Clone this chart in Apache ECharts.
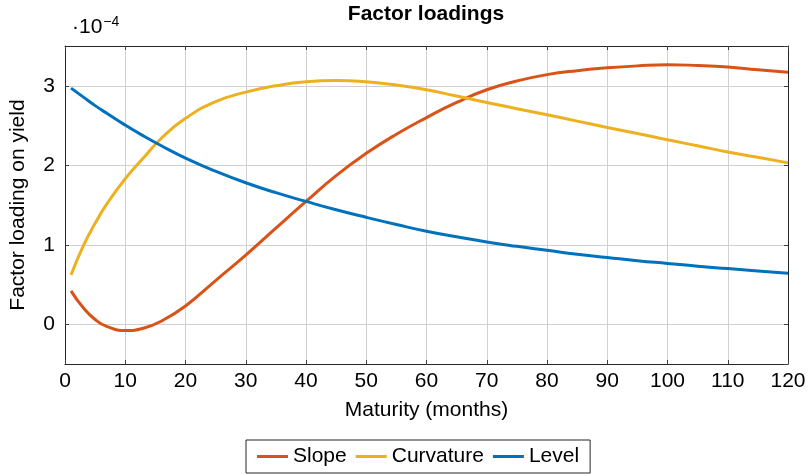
<!DOCTYPE html>
<html>
<head>
<meta charset="utf-8">
<script src="https://cdn.jsdelivr.net/npm/echarts@6/dist/echarts.min.js"></script>
<style>
  html, body { margin: 0; padding: 0; background: #fff; }
  #chart { width: 812px; height: 474px; }
</style>
</head>
<body>
<div id="chart"></div>
<script>
// maturities in months
var months = [1, 3, 5, 7, 10, 13, 16, 20, 25, 30, 35, 40, 45, 50,
  55, 60, 65, 70, 75, 80, 85, 90, 95, 100, 105, 110, 115, 120];

// loadings, in units of 1e-4
var slope = [0.42, 0.21, 0.06, -0.03, -0.08, -0.05, 0.04, 0.23, 0.55, 0.87, 1.21, 1.545, 1.87, 2.15,
  2.39, 2.60, 2.79, 2.95, 3.06, 3.14, 3.19, 3.225, 3.25, 3.265, 3.255, 3.235, 3.20, 3.17];
var curvature = [0.62, 0.98, 1.27, 1.52, 1.83, 2.09, 2.34, 2.59, 2.80, 2.92, 3.00, 3.05, 3.065, 3.05,
  3.01, 2.95, 2.87, 2.79, 2.71, 2.635, 2.555, 2.476, 2.40, 2.32, 2.245, 2.166, 2.10, 2.03];
var level = [2.97, 2.86, 2.75, 2.65, 2.505, 2.37, 2.245, 2.09, 1.925, 1.78, 1.655, 1.545, 1.44, 1.345,
  1.255, 1.17, 1.10, 1.035, 0.98, 0.93, 0.88, 0.84, 0.80, 0.765, 0.73, 0.70, 0.67, 0.64];

var seriesNames = ['Slope', 'Curvature', 'Level'];
var seriesColors = ['#D95319', '#EDB120', '#0072BD'];

var FONT = 'Liberation Sans';

function pairs(vals) {
  return months.map(function (m, i) { return [m, vals[i]]; });
}

var chart = echarts.init(document.getElementById('chart'));

var axisLine = { show: true, onZero: false, lineStyle: { color: '#262626', width: 1 } };
var tick = { show: true, inside: true, length: 4, lineStyle: { color: '#404040', width: 1 } };

chart.setOption({
  animation: false,
  textStyle: { fontFamily: FONT },
  title: [{
    text: 'Factor loadings',
    left: 426,
    textAlign: 'center',
    top: 4,
    padding: 0,
    textStyle: { fontFamily: FONT, fontSize: 21, fontWeight: 'bold', color: '#000' }
  }, {
    text: '{a|·10}{b|−4}',
    left: 72,
    top: 14,
    padding: 0,
    textStyle: {
      fontWeight: 'normal',
      rich: {
        a: { fontFamily: FONT, fontSize: 21, fontWeight: 'normal', color: '#000', verticalAlign: 'bottom', lineHeight: 24 },
        b: { fontFamily: FONT, fontSize: 14, fontWeight: 'normal', color: '#000', verticalAlign: 'bottom', lineHeight: 24, padding: [0, 0, 9, 1] }
      }
    }
  }],
  legend: {
    data: seriesNames,
    top: 440,
    left: 246,
    orient: 'horizontal',
    icon: 'rect',
    itemWidth: 31,
    itemHeight: 3,
    itemGap: 9,
    padding: [6, 11],
    borderColor: '#262626',
    borderWidth: 1,
    borderRadius: 0,
    textStyle: { fontFamily: FONT, fontSize: 21, color: '#000' }
  },
  grid: { left: 65, right: 24, top: 46, bottom: 110, containLabel: false },
  xAxis: [{
    type: 'value',
    min: 0,
    max: 120,
    interval: 10,
    name: 'Maturity (months)',
    nameLocation: 'middle',
    nameGap: 36,
    nameTextStyle: { fontFamily: FONT, fontSize: 21, color: '#000' },
    axisLine: axisLine,
    axisTick: tick,
    axisLabel: { fontFamily: FONT, fontSize: 21, color: '#000', margin: 7 },
    splitLine: { show: true, lineStyle: { color: '#d0d0d0', width: 1 } }
  }, {
    type: 'value',
    position: 'top',
    min: 0,
    max: 120,
    interval: 10,
    axisLine: axisLine,
    axisTick: tick,
    axisLabel: { show: false },
    splitLine: { show: false }
  }],
  yAxis: [{
    type: 'value',
    min: -0.5,
    max: 3.5,
    splitNumber: 4,
    name: 'Factor loading on yield',
    nameLocation: 'middle',
    nameGap: 36,
    nameTextStyle: { fontFamily: FONT, fontSize: 21, color: '#000' },
    axisLine: axisLine,
    axisTick: tick,
    axisLabel: { fontFamily: FONT, fontSize: 21, color: '#000', margin: 10, showMinLabel: false, showMaxLabel: false },
    splitLine: { show: true, lineStyle: { color: '#d0d0d0', width: 1 } }
  }, {
    type: 'value',
    position: 'right',
    min: -0.5,
    max: 3.5,
    splitNumber: 4,
    axisLine: axisLine,
    axisTick: tick,
    axisLabel: { show: false },
    splitLine: { show: false }
  }],
  series: [slope, curvature, level].map(function (vals, i) {
    return {
      name: seriesNames[i],
      type: 'line',
      data: pairs(vals),
      smooth: 0.5,
      showSymbol: false,
      color: seriesColors[i],
      lineStyle: { width: 3, color: seriesColors[i] }
    };
  })
});
</script>
</body>
</html>
